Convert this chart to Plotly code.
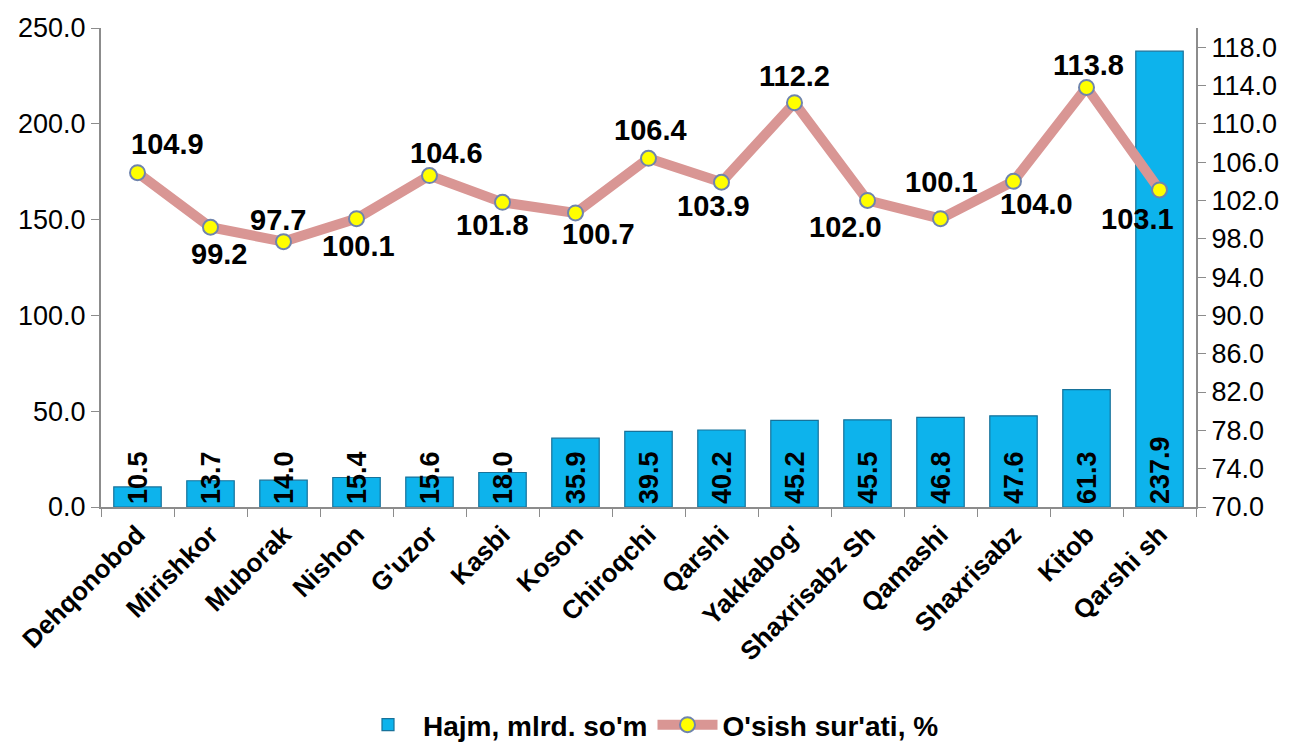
import plotly.graph_objects as go

DISTRICTS = [
    "Dehqonobod", "Mirishkor", "Muborak", "Nishon", "G'uzor", "Kasbi", "Koson",
    "Chiroqchi", "Qarshi", "Yakkabog'", "Shaxrisabz Sh", "Qamashi", "Shaxrisabz",
    "Kitob", "Qarshi sh",
]
VOLUME = [10.5, 13.7, 14.0, 15.4, 15.6, 18.0, 35.9, 39.5, 40.2, 45.2, 45.5, 46.8, 47.6, 61.3, 237.9]
GROWTH = [104.9, 99.2, 97.7, 100.1, 104.6, 101.8, 100.7, 106.4, 103.9, 112.2, 102.0, 100.1, 104.0, 113.8, 103.1]

# pixel offset of each growth label from its marker (dx right, dy down)
GROWTH_LABEL_SHIFT = [
    (30, -29), (8, 27), (-6, -22), (2, 27), (17, -23), (-10, 23), (23, 21), (2, -28),
    (-8, 24), (0, -27), (-22, 27), (1, -37), (23, 23), (2, -22), (-22, 29),
]

FONT = "Arial, Liberation Sans, sans-serif"
AXIS_GREY = "#8c8c8c"

fig = go.Figure()

fig.add_trace(go.Bar(
    x=DISTRICTS, y=VOLUME, name="Hajm, mlrd. so'm",
    marker=dict(color="#0DB3EC", line=dict(color="#17729A", width=1.2)),
    text=[f"{v:.1f}" for v in VOLUME],
    textposition="inside", insidetextanchor="start", textangle=-90,
    constraintext="none", cliponaxis=False,
    textfont=dict(family=FONT, size=27, color="black", weight="bold"),
))

fig.add_trace(go.Scatter(
    x=DISTRICTS, y=GROWTH, name="O'sish sur'ati, %", yaxis="y2",
    mode="lines+markers",
    line=dict(color="#D99694", width=10),
    marker=dict(size=15, color="#FFFF00", line=dict(color="#6F84AD", width=2)),
    cliponaxis=False,
))

for name, val, (dx, dy) in zip(DISTRICTS, GROWTH, GROWTH_LABEL_SHIFT):
    fig.add_annotation(
        x=name, y=val, yref="y2", text=f"{val:.1f}", showarrow=False,
        xshift=dx, yshift=-dy,
        font=dict(family=FONT, size=29, color="black", weight="bold"),
    )

# the page body adds an 8px margin, so the figure is sized to fit the window
fig.update_layout(
    width=1281, height=736,
    paper_bgcolor="white", plot_bgcolor="white",
    font=dict(family=FONT, color="black"),
    margin=dict(l=93, r=93, t=20, b=237, autoexpand=False),
    bargap=0.35,
    showlegend=True,
    legend=dict(
        orientation="h", x=0.5, xanchor="center", y=-0.455, yanchor="middle",
        font=dict(family=FONT, size=28, weight="bold"), itemwidth=60,
    ),
    xaxis=dict(
        automargin=False, range=[-0.5, len(DISTRICTS) - 0.5],
        showline=True, linecolor=AXIS_GREY, linewidth=2,
        ticks="outside", tickson="boundaries", ticklen=8, tickcolor=AXIS_GREY,
        tickangle=-45, tickfont=dict(family=FONT, size=26, weight="bold"),
        showgrid=False,
    ),
    yaxis=dict(
        automargin=False,
        range=[0, 250], dtick=50, tickformat=".1f",
        showline=True, linecolor=AXIS_GREY, linewidth=2,
        ticks="outside", ticklen=8, tickcolor=AXIS_GREY,
        tickfont=dict(family=FONT, size=27), showgrid=False, zeroline=False,
    ),
    yaxis2=dict(
        automargin=False,
        range=[70, 120], tick0=70, dtick=4, tickformat=".1f",
        overlaying="y", side="right",
        showline=True, linecolor=AXIS_GREY, linewidth=2,
        ticks="outside", ticklen=8, tickcolor=AXIS_GREY,
        tickfont=dict(family=FONT, size=27), showgrid=False, zeroline=False,
    ),
)

fig.write_html("out.html")
